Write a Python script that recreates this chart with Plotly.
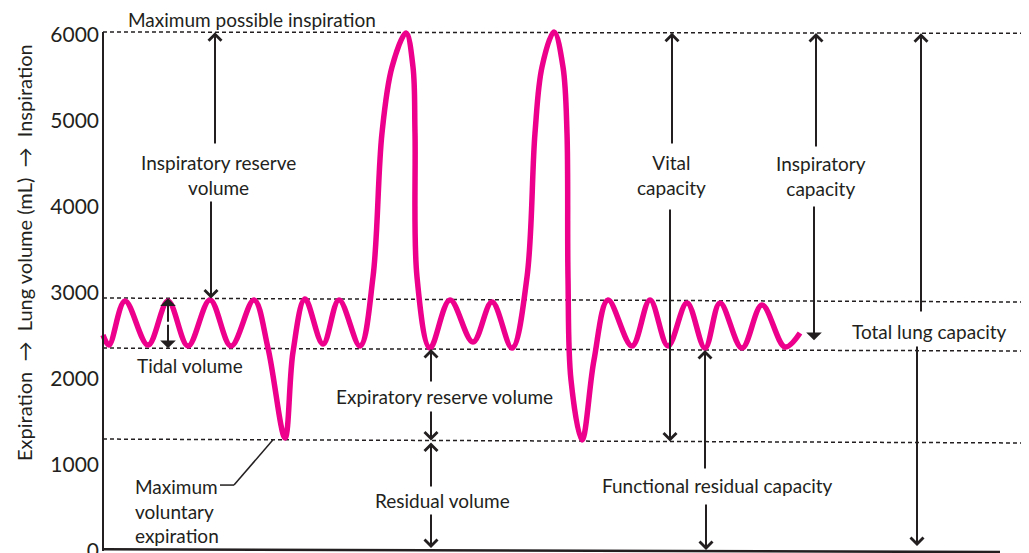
import plotly.graph_objects as go

# ---------------- data ----------------
# time (arbitrary units) and lung volume (mL) of the spirogram trace
t = [0, 6, 22, 45, 65, 85, 107, 128, 151, 165, 182, 190, 202, 220, 236, 257,
     270, 279, 289, 303, 310, 312, 314, 327, 347, 370, 389, 409,
     424, 432, 439, 451, 460, 464, 465, 468, 479, 491, 505, 529, 547, 565,
     584, 602, 617, 639, 659, 682, 697]
volume = [2512, 2395, 2907, 2395, 2907, 2384, 2919, 2384, 2919, 2360, 1314, 2314, 2930, 2407, 2919, 2384,
          3186, 4860, 5628, 6023, 5628, 4860, 3186, 2360, 2919, 2430, 2895, 2360,
          3186, 4860, 5628, 6035, 5628, 4860, 3186, 1988, 1291, 2221, 2919, 2384, 2919, 2384,
          2884, 2360, 2884, 2360, 2860, 2372, 2535]

# reference levels (mL) as drawn at the left and right ends of the chart
level_max = [6035, 6020]
level_tidal_top = [2942, 2895]
level_frc = [2360, 2326]
level_rv = [1302, 1256]

y_ticks = [0, 1000, 2000, 3000, 4000, 5000, 6000]
y_ticklabels = ["0", "1000", "2000", "3000", "4000", "5000", "6000"]

T_MIN, T_MAX = -3, 926
V_MIN, V_MAX = -23, 6314

FONT = "Lato, Roboto, sans-serif"
INK = "#231f20"
PINK = "rgb(236,0,140)"


def lvl(level, x):
    f = x / T_MAX
    return level[0] + (level[1] - level[0]) * f


fig = go.Figure()

# dashed reference lines
for L in (level_max, level_tidal_top, level_frc, level_rv):
    fig.add_shape(type="line", xref="x", yref="y", x0=0, x1=T_MAX, y0=L[0], y1=L[1],
                  line=dict(color=INK, width=1.5, dash="4px,3px"), layer="below")

# axis lines
fig.add_shape(type="line", xref="x", yref="y", x0=0, x1=0, y0=0, y1=level_max[0],
              line=dict(color=INK, width=2))
fig.add_shape(type="line", xref="x", yref="y", x0=0, x1=897, y0=20, y1=-12,
              line=dict(color=INK, width=2.5))

fig.add_trace(go.Scatter(x=t, y=volume, mode="lines",
                         line=dict(color=PINK, width=5.5, shape="spline", smoothing=1.0),
                         hoverinfo="skip", showlegend=False))

annotations = []


def arrow(x_tail, v_tail, x_tip, v_tip, head=4, size=1.25, standoff=0):
    annotations.append(dict(x=x_tip, y=v_tip, ax=x_tail, ay=v_tail, xref="x", yref="y",
                            axref="x", ayref="y", text="", showarrow=True,
                            arrowhead=head, arrowsize=size, arrowwidth=2,
                            arrowcolor=INK, standoff=standoff))


def label(x, v, text, xanchor="center", align="center", size=19):
    annotations.append(dict(x=x, y=v, xref="x", yref="y", text=text, showarrow=False,
                            xanchor=xanchor, yanchor="middle", align=align,
                            font=dict(family=FONT, size=size, color=INK)))


# Inspiratory reserve volume
arrow(112, 4721, 112, lvl(level_max, 112))
arrow(108, 4081, 108, lvl(level_tidal_top, 108))
label(115, 4372, "Inspiratory reserve<br>volume")

# Tidal volume (double, filled heads)
mid = (lvl(level_tidal_top, 65) + lvl(level_frc, 65)) / 2
arrow(65, mid, 65, lvl(level_tidal_top, 65), head=1, size=1.3)
arrow(65, mid, 65, lvl(level_frc, 65), head=1, size=1.3)
label(87, 2163, "Tidal volume")

# Maximum possible inspiration
label(149, 6175, "Maximum possible inspiration")

# Maximum voluntary expiration + leader
label(30, 465, "Maximum<br>voluntary<br>expiration", xanchor="left", align="left")
fig.add_shape(type="line", xref="x", yref="y", x0=117, x1=131, y0=767, y1=767,
              line=dict(color=INK, width=1.5))
fig.add_shape(type="line", xref="x", yref="y", x0=131, x1=170, y0=767, y1=lvl(level_rv, 170),
              line=dict(color=INK, width=1.5))

# Expiratory reserve volume
arrow(328, 1953, 328, lvl(level_frc, 328))
arrow(328, 1640, 328, lvl(level_rv, 328))
label(341, 1791, "Expiratory reserve volume")

# Residual volume
arrow(328, 733, 328, lvl(level_rv, 328), standoff=2)
arrow(328, 442, 328, 0, standoff=3)
label(339, 593, "Residual volume")

# Vital capacity
arrow(569, 4721, 569, lvl(level_max, 569))
arrow(567, 3988, 567, lvl(level_rv, 567))
label(568, 4372, "Vital<br>capacity")

# Functional residual capacity
arrow(602, 942, 602, lvl(level_frc, 602))
arrow(603, 558, 603, 0, standoff=1)
label(614, 767, "Functional residual capacity")

# Inspiratory capacity
arrow(713, 4686, 713, lvl(level_max, 713))
arrow(711, 4023, 711, lvl(level_frc, 711), head=1, size=1.3, standoff=10)
label(718, 4360, "Inspiratory<br>capacity")

# Total lung capacity
arrow(818, 2767, 818, lvl(level_max, 818))
arrow(814, 2395, 814, 0, standoff=5)
label(826, 2547, "Total lung capacity")

# y-axis title
annotations.append(dict(x=-0.0818, y=0.5505, xref="paper", yref="paper",
                        text="Expiration  \u2192  Lung volume (mL)  \u2192  Inspiration",
                        textangle=-90, showarrow=False, xanchor="center", yanchor="middle",
                        font=dict(family=FONT, size=20, color=INK)))

fig.update_layout(
    width=1021, height=545,
    margin=dict(l=92, r=0, t=0, b=0, autoexpand=False),
    paper_bgcolor="white", plot_bgcolor="white",
    showlegend=False,
    annotations=annotations,
    xaxis=dict(range=[T_MIN, T_MAX], visible=False, fixedrange=True, automargin=False),
    yaxis=dict(range=[V_MIN, V_MAX], tickvals=y_ticks, ticktext=y_ticklabels,
               showgrid=False, zeroline=False, showline=False, ticks="",
               ticklabeloverflow="allow", automargin=False,
               tickfont=dict(family=FONT, size=21, color=INK),
               fixedrange=True),
)

fig.write_html("out.html")
